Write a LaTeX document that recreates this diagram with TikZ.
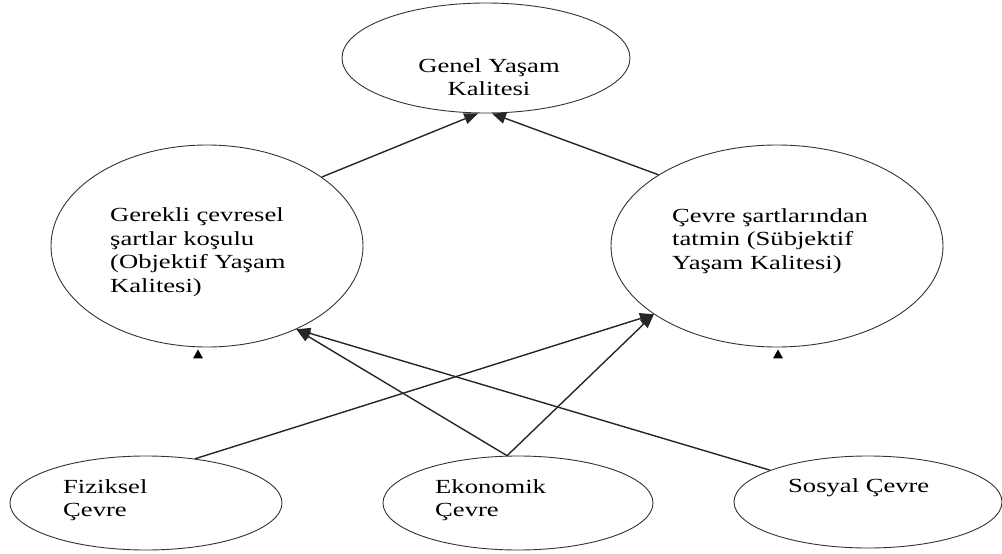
\documentclass[tikz,border=0pt]{standalone}
\usepackage{fontspec}
\setmainfont{Liberation Serif}[FakeStretch=1.33]
\usetikzlibrary{arrows.meta,calc,shapes.geometric}
\begin{document}
\begin{tikzpicture}[x=1pt,y=-1pt,
  oval/.style={ellipse,draw=black!80,line width=0.9pt,inner sep=0pt},
  txt/.style={inner sep=0pt,font=\fontsize{20}{23.5}\selectfont,align=left},
  conn/.style={line width=1.4pt,draw=black!85,-{Triangle[length=14pt,width=11pt]}},
  stray/.style={fill=black}
]
\useasboundingbox (0,0) rectangle (1002,554);
% ellipses
\node[oval,minimum width=288pt,minimum height=110pt] (T) at (486,58) {};
\node[oval,minimum width=312pt,minimum height=202pt] (L) at (207,246) {};
\node[oval,minimum width=332pt,minimum height=202pt] (R) at (777,246) {};
\node[oval,minimum width=272pt,minimum height=94pt] (F) at (146,503) {};
\node[oval,minimum width=270pt,minimum height=94pt] (E) at (518,503) {};
\node[oval,minimum width=268pt,minimum height=92pt] (S) at (868,502) {};
% texts
\node[txt,align=center] (tT) at (489,77) {Genel Yaşam\\Kalitesi};
\node[txt,anchor=west] (tL) at (110,252) {Gerekli çevresel\\şartlar koşulu\\(Objektif Yaşam\\Kalitesi)};
\node[txt,anchor=west] (tR) at (672,241) {Çevre şartlarından\\tatmin (Sübjektif\\Yaşam Kalitesi)};
\node[txt,anchor=west] (tF) at (63,500) {Fiziksel\\Çevre};
\node[txt,anchor=west] (tE) at (435,500) {Ekonomik\\Çevre};
\node[txt,anchor=west] (tS) at (788,488) {Sosyal Çevre};
% connectors
\draw[conn] (L.31.3) -- (T.262.7);
\draw[conn] (R.149.8) -- (T.276.2);
\draw[conn] (F.42.7) -- (R.209.9);
\draw[conn] (E.103) -- (R.209.9);
\draw[conn] (E.103) -- (L.317.8);
\draw[conn] (S.162.1) -- (L.317.8);
% stray arrowheads
\fill[stray] ($(L.south)+(-14,11)$) -- ++(10,0) -- ++(-5,-9) -- cycle;
\fill[stray] ($(R.south)+(-4,11)$) -- ++(10,0) -- ++(-5,-9) -- cycle;
\end{tikzpicture}
\end{document}
